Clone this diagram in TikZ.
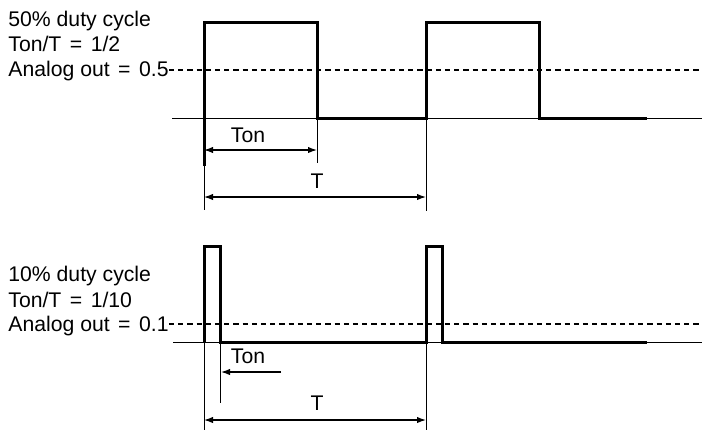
\documentclass[tikz,border=0pt]{standalone}
\usepackage{fontspec}
\setmainfont{Liberation Sans}
\usetikzlibrary{arrows.meta,positioning}

\newcommand{\eqsign}{\hspace{0.4em}=\hspace{0.4em}}

\begin{document}
\begin{tikzpicture}[
 x=0.5pt,y=-0.5pt,
 signal/.style={line width=1.5pt,line join=miter},
 axis/.style={line width=0.5pt},
 guide/.style={line width=0.5pt},
 avg/.style={line width=1.3pt,dash pattern=on 2.6pt off 2pt},
 dim/.style={line width=0.6pt,{Latex[length=4.5pt,width=3.2pt]}-{Latex[length=4.5pt,width=3.2pt]}},
 half/.style={line width=0.6pt,-{Latex[length=4.5pt,width=3.2pt]}},
 caption/.style={font=\fontsize{10.6}{12.6}\selectfont,inner sep=0pt,anchor=base west},
 tag/.style={font=\fontsize{10.6}{12.6}\selectfont,inner sep=0pt,anchor=base},
]
\useasboundingbox (0,0) rectangle (702,430);

% 50% duty cycle
\node[caption] (dutyA) at (8,26) {50\% duty cycle};
\node[caption] (ratioA) at (8,51) {Ton/T\eqsign 1/2};
\node[caption] (avgA) at (8,76) {Analog out\eqsign 0.5};
\coordinate (endA) at (702,70);
\coordinate (riseA) at (204,118);
\coordinate (fallA) at (317,118);
\coordinate (nextA) at (426,118);
\draw[axis] (172,118) -- (702,118);
\draw[avg] (avgA.east |- endA) -- (endA);
\draw[signal] (204,166) -- (204,22) -- (317,22) -- (317,118) -- (426,118)
  -- (426,22) -- (539,22) -- (539,118) -- (647,118);
\draw[guide] (riseA) -- ++(0,92) coordinate (riseAend);
\draw[guide] (fallA) -- ++(0,45) coordinate (fallAend);
\draw[guide] (nextA) -- ++(0,93) coordinate (nextAend);
\coordinate (tonAl) at (204,150);
\coordinate (tonAr) at (317,150);
\draw[dim] (tonAl) -- (tonAr);
\node[tag] (tonA) at (248,142) {Ton};
\coordinate (perAl) at (204,197);
\coordinate (perAr) at (426,197);
\draw[dim] (perAl) -- (perAr);
\node[tag] (perA) at (317,188) {T};

% 10% duty cycle
\node[caption] (dutyB) at (8,281) {10\% duty cycle};
\node[caption] (ratioB) at (8,307) {Ton/T\eqsign 1/10};
\node[caption] (avgB) at (8,331) {Analog out\eqsign 0.1};
\coordinate (endB) at (702,324);
\coordinate (riseB) at (204,342);
\coordinate (fallB) at (220,342);
\coordinate (nextB) at (426,342);
\draw[axis] (173,342) -- (702,342);
\draw[avg] (avgB.east |- endB) -- (endB);
\draw[signal] (riseB) -- (204,246) -- (220,246) -- (fallB) -- (nextB)
  -- (426,246) -- (442,246) -- (442,342) -- (647,342);
\draw[guide] (riseB) -- ++(0,88);
\draw[guide] (fallB) -- ++(0,61);
\draw[guide] (nextB) -- ++(0,88);
\coordinate (tonBs) at (281,372);
\coordinate (tonBe) at (221,372);
\draw[half] (tonBs) -- (tonBe);
\node[tag] (tonB) at (248,363) {Ton};
\coordinate (perBl) at (204,420);
\coordinate (perBr) at (426,420);
\draw[dim] (perBl) -- (perBr);
\node[tag] (perB) at (317,410) {T};
\end{tikzpicture}
\end{document}
